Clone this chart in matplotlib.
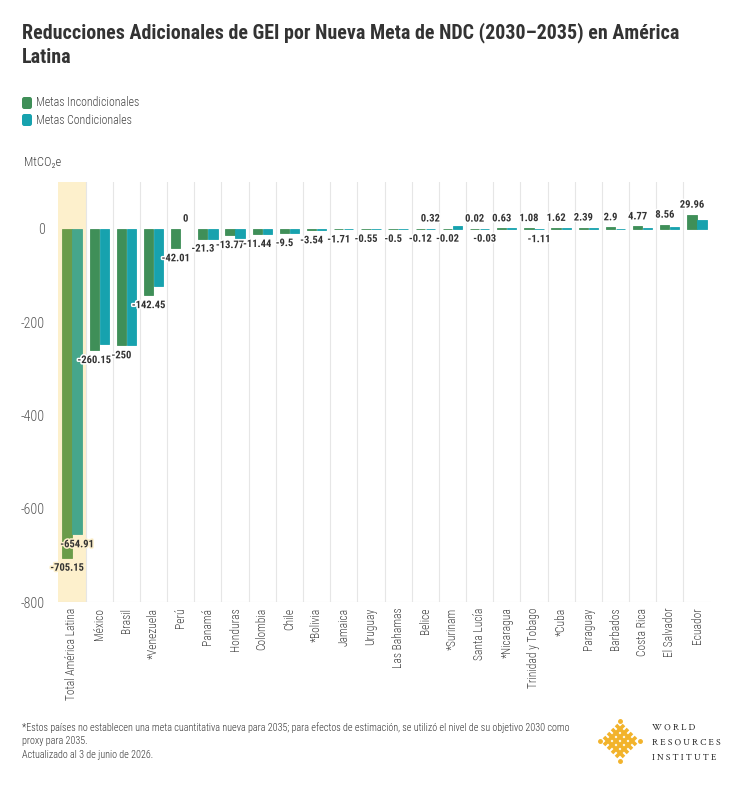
import matplotlib
matplotlib.use("Agg")
import matplotlib.pyplot as plt
import matplotlib.patheffects as pe
from matplotlib.patches import FancyBboxPatch
import numpy as np

# ---------------- data ----------------
categories = ["Total América Latina", "México", "Brasil", "*Venezuela", "Perú", "Panamá",
              "Honduras", "Colombia", "Chile", "*Bolivia", "Jamaica", "Uruguay",
              "Las Bahamas", "Belice", "*Surinam", "Santa Lucía", "*Nicaragua",
              "Trinidad y Tobago", "*Cuba", "Paraguay", "Barbados", "Costa Rica",
              "El Salvador", "Ecuador"]
incondicionales = [-705.15, -260.15, -250, -142.45, -42.01, -21.3, -13.77, -11.44, -9.5,
                   -3.54, -1.71, -0.55, -0.5, -0.12, -0.02, 0.02, 0.63, 1.08, 1.62, 2.39,
                   2.9, 4.77, 8.56, 29.96]
condicionales = [-654.91, -247, -250, -122, 0, -21.3, -20, -11.44, -9.5,
                 -3.54, -1.71, -0.55, -0.5, 0.32, 5.5, -0.03, 0.63, -1.11, 1.62, 2.0,
                 0.2, 0.5, 4.5, 18.0]
show_cond_label = [True, False, False, False, True, False, False, False, False,
                   False, False, False, False, True, False, True, False, True, False, False,
                   False, False, False, False]
yticks = [0, -200, -400, -600, -800]

title = "Reducciones Adicionales de GEI por Nueva Meta de NDC (2030–2035) en América\nLatina"
legend_labels = ["Metas Incondicionales", "Metas Condicionales"]
unit_label = "MtCO₂e"
footer = ("*Estos países no establecen una meta cuantitativa nueva para 2035; para efectos de estimación, "
          "se utilizó el nivel de su objetivo 2030 como\nproxy para 2035.\nActualizado al 3 de junio de 2026.")

# ---------------- style ----------------
FAM = ["Roboto Condensed", "DejaVu Sans"]
plt.rcParams["font.family"] = FAM

GREEN = "#3f8f58"
TEAL = "#17a2ae"
GREEN_T = "#6a9c4a"
TEAL_T = "#46a68b"
HIGHLIGHT = "#fdf0cc"

W, H = 740, 785
fig = plt.figure(figsize=(W / 100, H / 100), dpi=100)
fig.patch.set_facecolor("white")

ax = fig.add_axes([58.4 / W, 1 - 602 / H, (710.6 - 58.4) / W, (602 - 182) / H])
n = len(categories)
x = np.arange(n)
ax.set_xlim(-0.5, n - 0.5)
ax.set_ylim(-800, 100)

ax.axvspan(-0.5, 0.5, color=HIGHLIGHT, zorder=0, lw=0)
for k in range(n - 1):
    ax.axvline(k + 0.5, color="#e6e6e6", lw=0.8, zorder=0.5)
ax.axhline(-800, color="#dddddd", lw=0.8, zorder=0.5)

bw = 0.34
off = 0.185
gcols = [GREEN_T if i == 0 else GREEN for i in range(n)]
tcols = [TEAL_T if i == 0 else TEAL for i in range(n)]
gedge = ["none" if v == 0 else c for v, c in zip(incondicionales, gcols)]
tedge = ["none" if v == 0 else c for v, c in zip(condicionales, tcols)]
ax.bar(x - off, incondicionales, width=bw, color=gcols, edgecolor=gedge, lw=0.6, zorder=2)
ax.bar(x + off, condicionales, width=bw, color=tcols, edgecolor=tedge, lw=0.6, zorder=2)


def fmt(v):
    return f"{v:.2f}".rstrip("0").rstrip(".")


def put(xc, v, i):
    dy = 7.2 if v >= 0 else -7.2
    halo = HIGHLIGHT if i == 0 else "white"
    ax.annotate(fmt(v), (xc, v), xytext=(0, dy), textcoords="offset points",
                ha="center", va="center", fontsize=7.6, fontweight="bold", color="#333333",
                zorder=5, path_effects=[pe.withStroke(linewidth=2.2, foreground=halo)])


for i in range(n):
    put(x[i] - off, incondicionales[i], i)
    if show_cond_label[i]:
        put(x[i] + off, condicionales[i], i)

ax.set_yticks(yticks)
ax.set_yticklabels([str(t) for t in yticks], fontweight="light")
ax.tick_params(axis="y", length=0, pad=10, labelsize=10, labelcolor="#555555")
ax.set_xticks(x)
ax.set_xticklabels(categories, rotation=90, va="top", ha="center", fontweight="light")
ax.tick_params(axis="x", length=0, pad=4, labelsize=8.3, labelcolor="#444444")
for s in ax.spines.values():
    s.set_visible(False)

# title
fig.text(22 / W, 1 - 22 / H, title, ha="left", va="top", fontsize=14.4, fontweight="bold",
         color="#333333", linespacing=1.35)

# legend
for j, (lab, col) in enumerate(zip(legend_labels, [GREEN, TEAL])):
    yc = 103 + j * 17
    fig.patches.append(FancyBboxPatch((22 / W, 1 - (yc + 6) / H), 10 / W, 12 / H,
                                      boxstyle="round,pad=0,rounding_size=0.003",
                                      transform=fig.transFigure, facecolor=col, edgecolor="none"))
    fig.text(36 / W, 1 - yc / H, lab, ha="left", va="center", fontsize=8.6,
             fontweight="light", color="#444444")

fig.text(24 / W, 1 - 162 / H, unit_label, ha="left", va="center", fontsize=9,
         fontweight="light", color="#444444")

# footer
fig.text(22 / W, 1 - 722 / H, footer, ha="left", va="top", fontsize=7.3,
         fontweight="light", color="#333333", linespacing=1.45)

# WRI logo mark
lax = fig.add_axes([598 / W, 1 - 763 / H, 44 / W, 44 / H])
lax.set_xlim(-1.1, 1.1)
lax.set_ylim(-1.1, 1.1)
lax.axis("off")
gold = "#f2b32b"
for c in [-0.6, -0.2, 0.2, 0.6]:
    lax.plot([(c - 1) / 2, (c + 1) / 2], [(c + 1) / 2, (c - 1) / 2],
             color=gold, lw=2.6, solid_capstyle="butt")
    lax.plot([(c - 1) / 2, (c + 1) / 2], [-(c + 1) / 2, -(c - 1) / 2],
             color=gold, lw=2.6, solid_capstyle="butt")
for px, py in [(0, 1.0), (0, -1.0), (1.0, 0), (-1.0, 0)]:
    lax.plot(px, py, "o", color=gold, ms=2.5)

for k, word in enumerate(["W O R L D", "R E S O U R C E S", "I N S T I T U T E"]):
    fig.text(652 / W, 1 - (727 + 15.5 * k) / H, word,
             ha="left", va="center", fontsize=6.8, color="#222222",
             family=["Crimson Text", "DejaVu Serif"])

fig.savefig("out.png", dpi=100, facecolor="white")
